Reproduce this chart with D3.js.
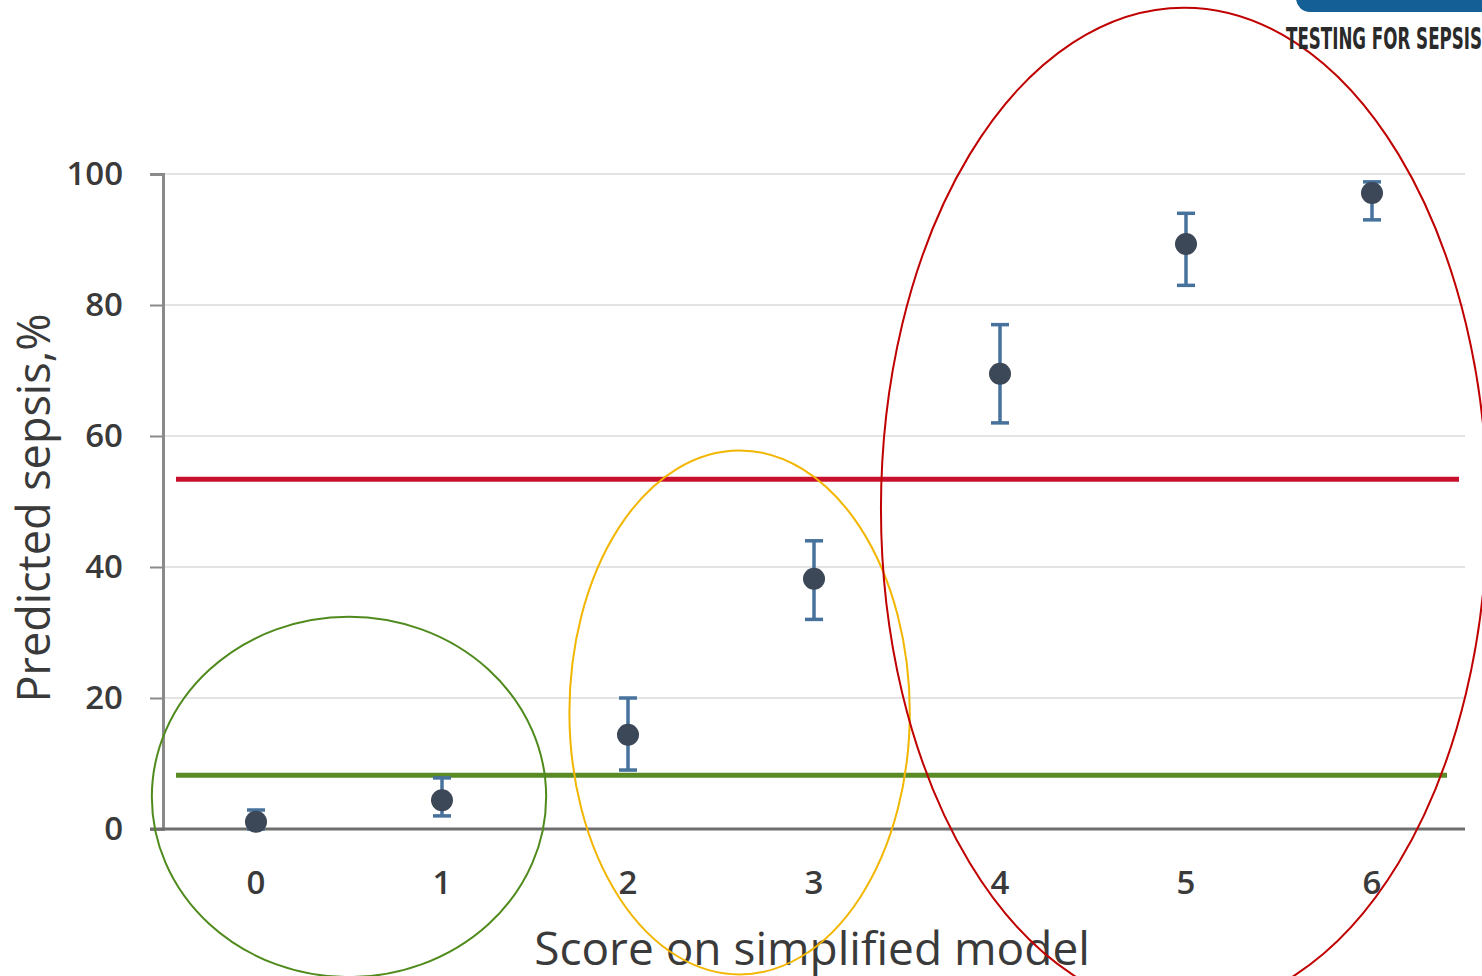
<!DOCTYPE html>
<html lang="en">
<head>
<meta charset="utf-8">
<title>Predicted sepsis by score</title>
<script src="https://cdn.jsdelivr.net/npm/d3@7"></script>
<style>
  body, html { margin:0; padding:0; background:#fff; }
  svg { display:block; }
</style>
</head>
<body>
<svg id="chart" width="1482" height="976"></svg>
<script>
// scores on the simplified model and predicted sepsis (%) with CI
var scores = [0, 1, 2, 3, 4, 5, 6];
var predicted = [1.1, 4.4, 14.4, 38.2, 69.5, 89.3, 97.1];
var lower = [0, 2.0, 9.0, 32.0, 62.0, 83.0, 93.0];
var upper = [2.9, 7.8, 20.0, 44.0, 77.0, 94.0, 98.8];
var yTicks = [0, 20, 40, 60, 80, 100];

// threshold lines (value in %)
var thresholds = [53.4, 8.2];
var thresholdColors = ['#c8102e', '#5a8a23'];

// highlight ellipses: centre score, centre %, radius in scores, radius in %
var ellipseCx = [0.5, 2.6, 4.99];
var ellipseCy = [4.9, 17.8, 48.9];
var ellipseRx = [1.06, 0.915, 1.63];
var ellipseRy = [27.5, 40.0, 76.5];
var ellipseColors = ['#4f8a1c', '#f2b600', '#c00000'];

var svg = d3.select('#chart');
var margin = { left: 163, right: 17, top: 174, bottom: 147 };
var W = 1482, H = 976;
var font = 'Open Sans, sans-serif';

var x = d3.scaleBand().domain(scores).range([margin.left, W - margin.right]);
var y = d3.scaleLinear().domain([0, 100]).range([H - margin.bottom, margin.top]);
var xc = function(s) { return x(s) + x.bandwidth() / 2; };
var kx = x.bandwidth();          // px per score unit
var ky = y(0) - y(1);            // px per %

// gridlines
svg.append('g').selectAll('line')
  .data(yTicks.filter(function(d){ return d > 0; }))
  .enter().append('line')
  .attr('x1', margin.left).attr('x2', W - margin.right)
  .attr('y1', function(d){ return y(d); }).attr('y2', function(d){ return y(d); })
  .attr('stroke', '#e3e3e3').attr('stroke-width', 2);

// y axis
var yAxis = svg.append('g')
  .attr('transform', 'translate(' + margin.left + ',0)')
  .call(d3.axisLeft(y).tickValues(yTicks).tickSize(13).tickPadding(27));
yAxis.select('.domain').attr('stroke', '#8a8a8a').attr('stroke-width', 3);
yAxis.selectAll('.tick line').attr('stroke', '#8a8a8a').attr('stroke-width', 2);
yAxis.selectAll('.tick text')
  .attr('fill', '#3a3a3a').style('font-family', font)
  .style('font-size', '33px').style('font-weight', 600);

// x axis line
svg.append('line')
  .attr('x1', margin.left - 13).attr('x2', W - margin.right)
  .attr('y1', y(0)).attr('y2', y(0))
  .attr('stroke', '#6e6e6e').attr('stroke-width', 3);

// x tick labels
svg.append('g').selectAll('text')
  .data(scores).enter().append('text')
  .attr('x', xc).attr('y', y(0) + 65)
  .attr('text-anchor', 'middle')
  .attr('fill', '#3a3a3a')
  .style('font-family', font).style('font-size', '33px').style('font-weight', 600)
  .text(function(d){ return d; });

// axis titles
svg.append('text')
  .attr('transform', 'translate(50,' + 508 + ') rotate(-90)')
  .attr('text-anchor', 'middle')
  .attr('fill', '#3a3a3a')
  .style('font-family', font).style('font-size', '45px')
  .text('Predicted  sepsis,%');

svg.append('text')
  .attr('x', 812).attr('y', 965)
  .attr('text-anchor', 'middle')
  .attr('fill', '#3a3a3a')
  .style('font-family', font).style('font-size', '46px')
  .text('Score on simplified model');

// threshold lines
svg.append('g').selectAll('line')
  .data(thresholds).enter().append('line')
  .attr('x1', 176).attr('x2', function(d, i){ return i === 0 ? 1459 : 1447; })
  .attr('y1', function(d){ return y(d); }).attr('y2', function(d){ return y(d); })
  .attr('stroke', function(d, i){ return thresholdColors[i]; })
  .attr('stroke-width', 5);

// error bars
var eb = svg.append('g').attr('stroke', '#46729c').attr('stroke-width', 3.5);
scores.forEach(function(s, i) {
  var cx = xc(s);
  eb.append('line').attr('x1', cx).attr('x2', cx).attr('y1', y(lower[i])).attr('y2', y(upper[i]));
  eb.append('line').attr('x1', cx - 9).attr('x2', cx + 9).attr('y1', y(upper[i])).attr('y2', y(upper[i]));
  eb.append('line').attr('x1', cx - 9).attr('x2', cx + 9).attr('y1', y(lower[i])).attr('y2', y(lower[i]));
});

// points
svg.append('g').selectAll('circle')
  .data(scores).enter().append('circle')
  .attr('cx', xc)
  .attr('cy', function(d, i){ return y(predicted[i]); })
  .attr('r', 11)
  .attr('fill', '#3c4757');

// ellipses
svg.append('g').selectAll('ellipse')
  .data(ellipseCx).enter().append('ellipse')
  .attr('cx', function(d){ return x(0) + x.bandwidth() / 2 + d * kx; })
  .attr('cy', function(d, i){ return y(ellipseCy[i]); })
  .attr('rx', function(d, i){ return ellipseRx[i] * kx; })
  .attr('ry', function(d, i){ return ellipseRy[i] * ky; })
  .attr('fill', 'none')
  .attr('stroke', function(d, i){ return ellipseColors[i]; })
  .attr('stroke-width', 2);

// logo in the corner
var logo = svg.append('g');
logo.append('rect')
  .attr('x', 1296).attr('y', -30).attr('width', 200).attr('height', 42).attr('rx', 14)
  .attr('fill', '#135f96');
logo.append('text')
  .attr('x', 1286).attr('y', 49)
  .attr('textLength', 196).attr('lengthAdjust', 'spacingAndGlyphs')
  .attr('fill', '#2a2a2a')
  .style('font-family', 'Liberation Sans Narrow, DejaVu Sans Condensed, sans-serif')
  .style('font-weight', 'bold').style('font-size', '31px')
  .text('TESTING FOR SEPSIS');
</script>
</body>
</html>
